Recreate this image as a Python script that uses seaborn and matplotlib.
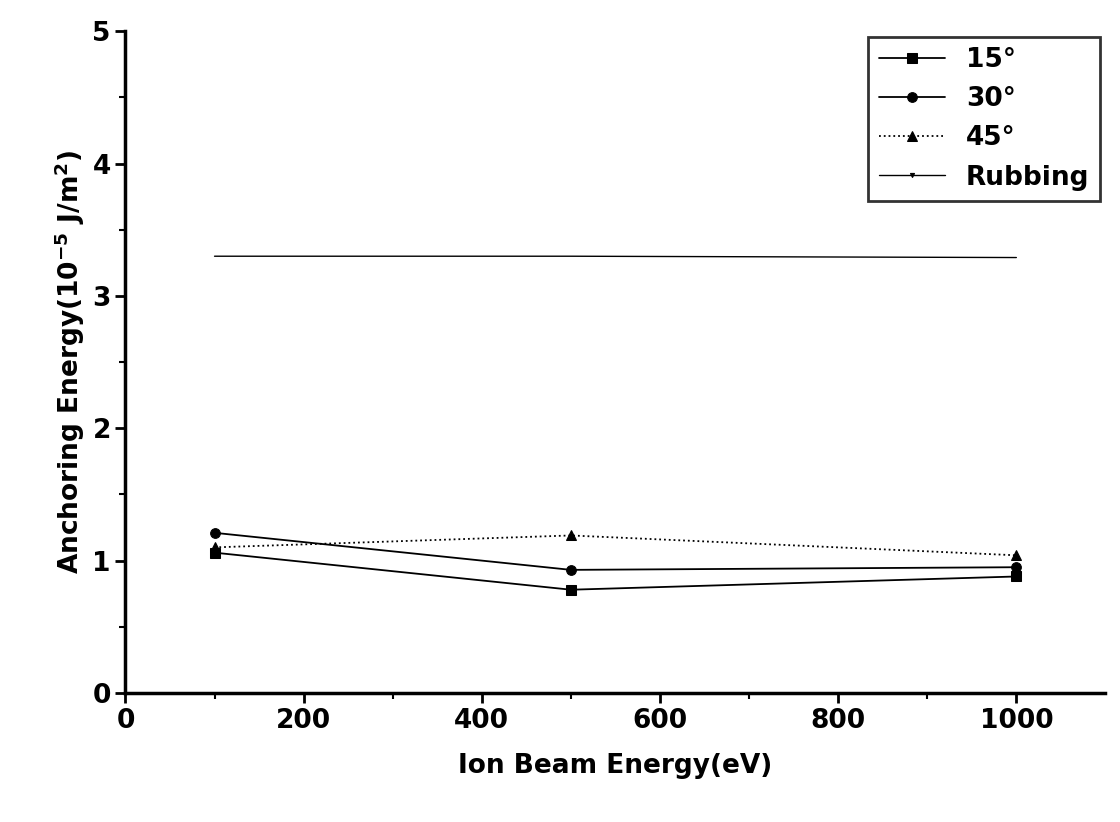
import matplotlib
matplotlib.use("Agg")
import matplotlib.pyplot as plt
import seaborn as sns
import pandas as pd

energy = [100, 500, 1000]
a15 = [1.06, 0.78, 0.88]
a30 = [1.21, 0.93, 0.95]
a45 = [1.10, 1.19, 1.04]
rubbing = [3.30, 3.30, 3.29]

sns.set_style("ticks")
plt.rcParams['font.family'] = ['DejaVu Sans']
plt.rcParams['font.weight'] = 'bold'
plt.rcParams['text.color'] = 'black'
plt.rcParams['axes.labelcolor'] = 'black'
plt.rcParams['xtick.color'] = 'black'
plt.rcParams['ytick.color'] = 'black'
plt.rcParams['axes.edgecolor'] = 'black'

fig, ax = plt.subplots(figsize=(11.2, 8.22), dpi=100)
fig.subplots_adjust(left=0.112, right=0.987, top=0.962, bottom=0.157)

series = [("15°", a15, "s", "-", 1.3, 7), ("30°", a30, "o", "-", 1.3, 7),
          ("45°", a45, "^", ":", 1.3, 7), ("Rubbing", rubbing, "v", "-", 1.0, 0)]
for name, vals, mk, ls, lw, ms in series:
    df = pd.DataFrame({"x": energy, "y": vals})
    sns.lineplot(data=df, x="x", y="y", ax=ax, color="black", marker=mk,
                 markersize=ms, linestyle=ls, linewidth=lw, label=name,
                 markeredgecolor="black")

ax.set_xlim(0, 1100)
ax.set_ylim(0, 5)
ax.set_xticks([0, 200, 400, 600, 800, 1000])
ax.set_xticks(range(100, 1100, 200), minor=True)
ax.set_yticks([0, 1, 2, 3, 4, 5])
ax.set_yticks([0.5, 1.5, 2.5, 3.5, 4.5], minor=True)
ax.tick_params(labelsize=19, width=2, length=7, direction="out")
ax.tick_params(which="minor", width=1.5, length=4)
for s in ["left", "bottom"]:
    ax.spines[s].set_linewidth(2.5)
for s in ["top", "right"]:
    ax.spines[s].set_visible(False)
ax.set_xlabel("Ion Beam Energy(eV)", fontsize=19, fontweight="bold", labelpad=14)
ax.set_ylabel("Anchoring Energy(10$^{-5}$ J/m$^2$)", fontsize=19, fontweight="bold")
leg = ax.legend(loc="upper right", fontsize=19, frameon=True, fancybox=False,
                edgecolor="black", handlelength=2.5, borderaxespad=0.2)
leg.get_frame().set_linewidth(2)
leg.legend_handles[3].set_markersize(3)
plt.savefig("out.png")
